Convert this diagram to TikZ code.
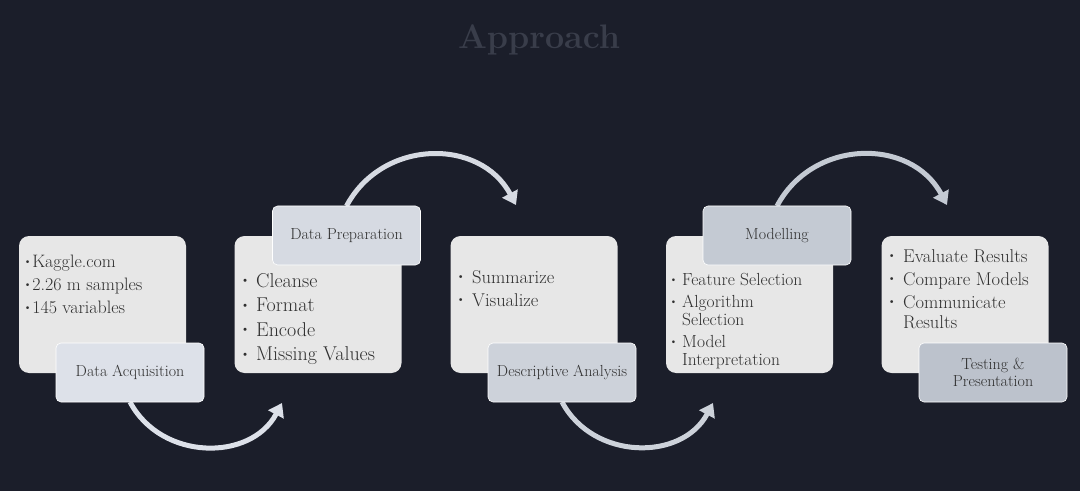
\documentclass[tikz,border=0pt]{standalone}
\usetikzlibrary{arrows.meta}
\definecolor{bgcol}{HTML}{1B1E2A}
\definecolor{boxcol}{HTML}{E7E7E7}
\definecolor{txtcol}{HTML}{303030}
\definecolor{titlecol}{HTML}{393D4A}
\definecolor{labA}{HTML}{DDE1E9}
\definecolor{labB}{HTML}{D6DAE2}
\definecolor{labC}{HTML}{CDD2DA}
\definecolor{labD}{HTML}{C4CAD3}
\definecolor{labE}{HTML}{BCC2CC}
\newcommand{\bul}{\raisebox{0.3ex}{\scalebox{0.7}{\textbullet}}}
\begin{document}
\begin{tikzpicture}[x=1pt, y=1pt,
    box/.style={fill=boxcol, rounded corners=10pt, minimum width=167pt, minimum height=137pt},
    lab/.style={draw=white, line width=0.6pt, rounded corners=5pt, minimum width=148pt,
      minimum height=59pt, text=txtcol, align=center, font=\fontsize{16}{17}\selectfont},
    list/.style={anchor=north west, inner sep=0pt, text=txtcol, align=left},
    flow/.style={line width=5pt, -{Triangle[length=13pt,width=17pt]}}]
      \fill[bgcol] (0,0) rectangle (1080,491);
      \useasboundingbox (0,0) rectangle (1080,491);

      \node[text=titlecol, font=\fontsize{34}{40}\selectfont\bfseries] (title) at (539,451) {Approach};

      % arrows first, boxes on top
      \coordinate (e1) at (282,88);
      \coordinate (e2) at (516,286);
      \coordinate (e3) at (713,88);
      \coordinate (e4) at (947,286);
      \coordinate (s1) at (130,89);
      \coordinate (s2) at (346.5,285);
      \coordinate (s3) at (562,89);
      \coordinate (s4) at (777,285);
      \draw[flow, color=labA] (s1) to[out=-62, in=-118, looseness=1.12] (e1);
      \draw[flow, color=labB] (s2) to[out=62, in=118, looseness=1.15] (e2);
      \draw[flow, color=labC] (s3) to[out=-62, in=-118, looseness=1.12] (e3);
      \draw[flow, color=labD] (s4) to[out=62, in=118, looseness=1.15] (e4);

      \node[box] (box1) at (102.5,186.5) {};
      \node[box] (box2) at (318,186.5) {};
      \node[box] (box3) at (534,186.5) {};
      \node[box] (box4) at (749.5,186.5) {};
      \node[box] (box5) at (965,186.5) {};

      \node[lab, fill=labA] (lab1) at (130,118.5) {Data Acquisition};
      \node[lab, fill=labB] (lab2) at (346.5,255.5) {Data Preparation};
      \node[lab, fill=labC] (lab3) at (562,118.5) {Descriptive Analysis};
      \node[lab, fill=labD] (lab4) at (777,255.5) {Modelling};
      \node[lab, fill=labE] (lab5) at (993,118.5) {Testing \&\\Presentation};

      \node[list, font=\fontsize{18}{23}\selectfont] (list1) at (23,236)
        {\bul Kaggle.com\\\bul 2.26 m samples\\\bul 145 variables};
      \node[list, font=\fontsize{20}{24.5}\selectfont] (list2) at (240,221)
        {\begin{tabular}{@{}p{16pt}@{}l@{}}
         \bul & Cleanse\\ \bul & Format\\ \bul & Encode\\ \bul & Missing Values
         \end{tabular}};
      \node[list, font=\fontsize{18.5}{23}\selectfont] (list3) at (456,224)
        {\begin{tabular}{@{}p{16pt}@{}l@{}}
         \bul & Summarize\\ \bul & Visualize
         \end{tabular}};
      \node[list, font=\fontsize{17.5}{18}\selectfont] (list4) at (669,218)
        {\begin{tabular}{@{}p{13pt}@{}l@{}}
         \bul & Feature Selection\\[4pt] \bul & Algorithm\\ & Selection\\[4pt]
         \bul & Model\\ & Interpretation
         \end{tabular}};
      \node[list, font=\fontsize{18.5}{20}\selectfont] (list5) at (887,243)
        {\begin{tabular}{@{}p{16pt}@{}l@{}}
         \bul & Evaluate Results\\[3pt] \bul & Compare Models\\[3pt]
         \bul & Communicate\\ & Results
         \end{tabular}};
    \end{tikzpicture}
\end{document}
